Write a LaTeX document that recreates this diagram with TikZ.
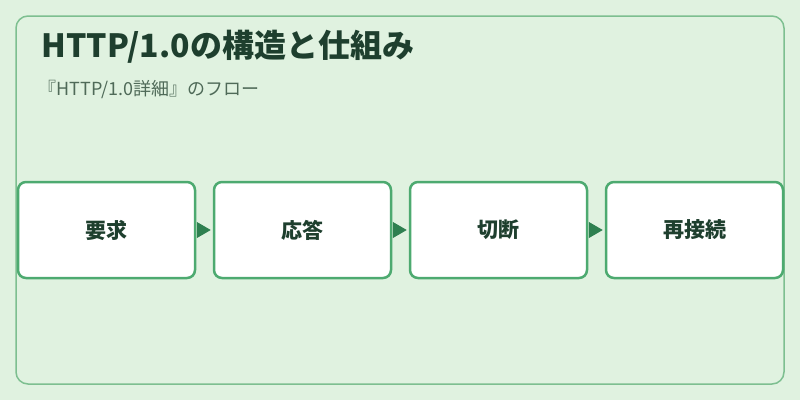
\documentclass[tikz,border=0pt]{standalone}
\usepackage{fontspec}
\setmainfont{Noto Sans CJK JP}
\usepackage{tikz}
\usetikzlibrary{positioning,calc,arrows.meta}

\definecolor{bgcol}{HTML}{E0F2E0}
\definecolor{framecol}{HTML}{7DBF90}
\definecolor{boxcol}{HTML}{4DAA70}
\definecolor{arrcol}{HTML}{2E8050}
\definecolor{titlecol}{HTML}{1E3F2E}
\definecolor{subcol}{HTML}{4F6A58}

\begin{document}
\begin{tikzpicture}[x=1pt,y=-1pt]
            \tikzstyle{step box}=[draw=boxcol, line width=2.5pt, fill=white,
            rounded corners=8pt, minimum width=177pt, minimum height=96pt,
            inner sep=0pt, text=titlecol, font=\fontsize{21}{24}\selectfont\bfseries]
            \tikzstyle{flow}=[draw=arrcol, line width=1pt,
            -{Triangle[length=14pt,width=16pt]}, shorten >=2pt, shorten <=1pt,
            fill=arrcol]

            \fill[bgcol] (0,0) rectangle (800,400);
            \draw[framecol, line width=1.5pt, rounded corners=12pt]
                (16,16) rectangle (784,384);

            \node[anchor=base west, text=titlecol,
                font=\fontsize{32}{36}\selectfont\bfseries]
                (title) at (38,57) {HTTP/1.0の構造と仕組み};
            \node[anchor=base west, text=subcol,
                font=\fontsize{18}{20}\selectfont]
                (sub) at (35,95) {『HTTP/1.0詳細』のフロー};

            \node[step box] (req) at (106.5,230) {要求};
            \node[step box] (res) at (302.5,230) {応答};
            \node[step box] (cut) at (498.5,230) {切断};
            \node[step box] (re) at (694.5,230) {再接続};

            \path (req) edge[flow] (res);
            \path (res) edge[flow] (cut);
            \path (cut) edge[flow] (re);
        \end{tikzpicture}
\end{document}
